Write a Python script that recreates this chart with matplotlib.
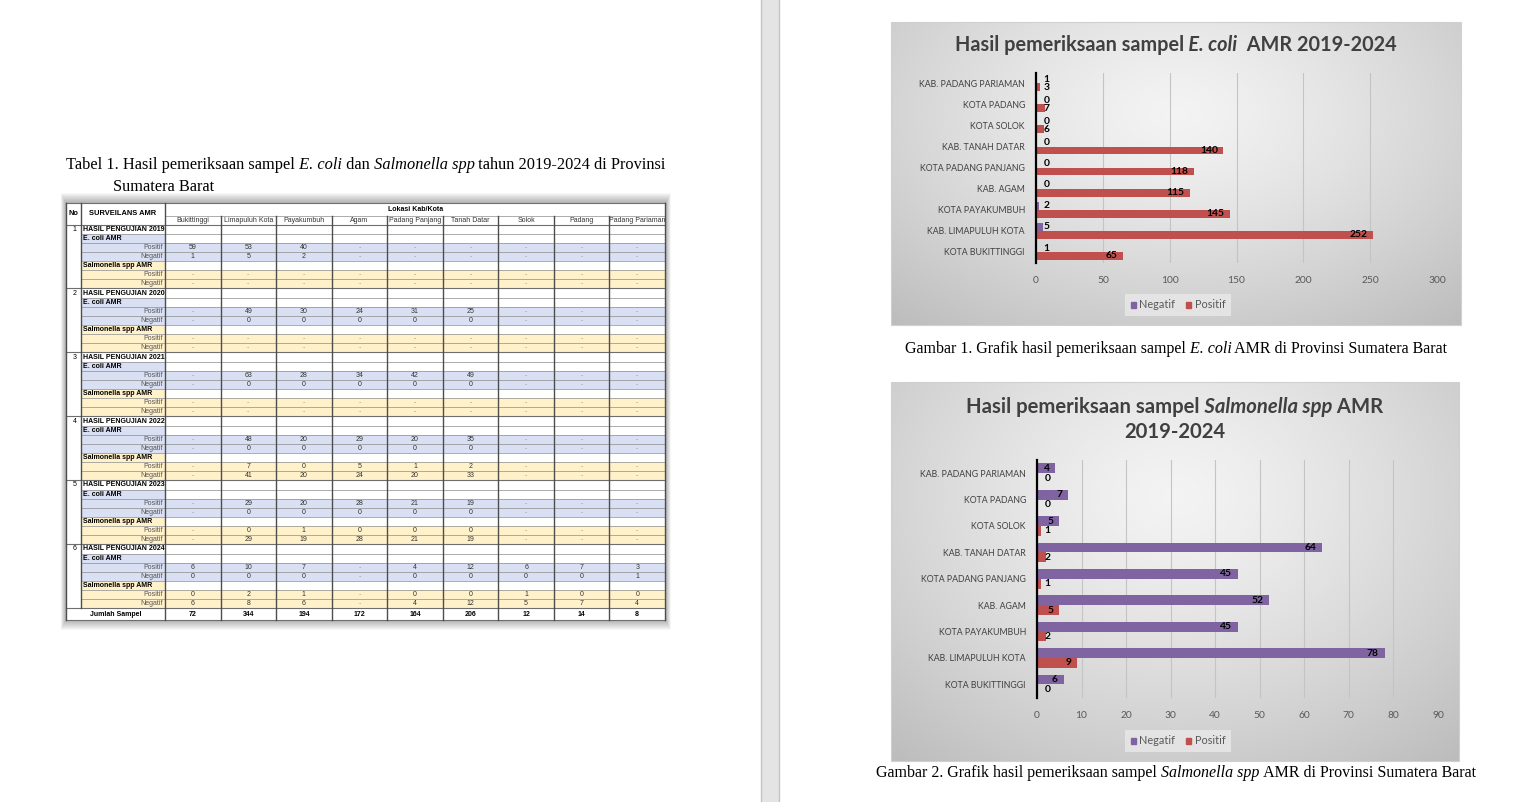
import numpy as np
import matplotlib.pyplot as plt
from matplotlib.patches import Rectangle, Patch

# ---- data: table ----
kota_tabel = ["Bukittinggi", "Limapuluh Kota", "Payakumbuh", "Agam", "Padang Panjang",
              "Tanah Datar", "Solok", "Padang", "Padang Pariaman"]
tahun = [2019, 2020, 2021, 2022, 2023, 2024]
N = None
ecoli_pos_tab = [[59, 53, 40, N, N, N, N, N, N],
                 [N, 49, 30, 24, 31, 25, N, N, N],
                 [N, 63, 28, 34, 42, 49, N, N, N],
                 [N, 48, 20, 29, 20, 35, N, N, N],
                 [N, 29, 20, 28, 21, 19, N, N, N],
                 [6, 10, 7, N, 4, 12, 6, 7, 3]]
ecoli_neg_tab = [[1, 5, 2, N, N, N, N, N, N],
                 [N, 0, 0, 0, 0, 0, N, N, N],
                 [N, 0, 0, 0, 0, 0, N, N, N],
                 [N, 0, 0, 0, 0, 0, N, N, N],
                 [N, 0, 0, 0, 0, 0, N, N, N],
                 [0, 0, 0, N, 0, 0, 0, 0, 1]]
salm_pos_tab = [[N] * 9, [N] * 9, [N] * 9,
                [N, 7, 0, 5, 1, 2, N, N, N],
                [N, 0, 1, 0, 0, 0, N, N, N],
                [0, 2, 1, N, 0, 0, 1, 0, 0]]
salm_neg_tab = [[N] * 9, [N] * 9, [N] * 9,
                [N, 41, 20, 24, 20, 33, N, N, N],
                [N, 29, 19, 28, 21, 19, N, N, N],
                [6, 8, 6, N, 4, 12, 5, 7, 4]]
jumlah = [72, 344, 194, 172, 164, 206, 12, 14, 8]

# ---- data: charts ----
kota_grafik = ["KOTA BUKITTINGGI", "KAB. LIMAPULUH KOTA", "KOTA PAYAKUMBUH", "KAB. AGAM",
               "KOTA PADANG PANJANG", "KAB. TANAH DATAR", "KOTA SOLOK", "KOTA PADANG",
               "KAB. PADANG PARIAMAN"]
ecoli_neg = [1, 5, 2, 0, 0, 0, 0, 0, 1]
ecoli_pos = [65, 252, 145, 115, 118, 140, 6, 7, 3]
salm_neg = [6, 78, 45, 52, 45, 64, 5, 7, 4]
salm_pos = [0, 9, 2, 5, 1, 2, 1, 0, 0]

UNGU = '#8064A2'
MERAH = '#C0504D'
SANS = ['Lato', 'DejaVu Sans']
SERIF = ['Liberation Serif', 'DejaVu Serif']
ARIAL = ['Liberation Sans', 'DejaVu Sans']

W, H = 1520, 802
fig = plt.figure(figsize=(15.2, 8.02), dpi=100)
bg = fig.add_axes([0, 0, 1, 1])
bg.axis('off')

# page separator
bg.add_patch(Rectangle((761, 0), 19, H, fc='#E4E4E4', ec='none'))
bg.plot([761, 761], [0, H], color='#C4C4C4', lw=1)
bg.plot([779, 779], [0, H], color='#C4C4C4', lw=1)


def rich(x, y, parts, size, family, color='black'):
    out = []
    prev = None
    for txt, style, weight in parts:
        if prev is None:
            t = bg.text(x, y, txt, fontsize=size, family=family, style=style,
                        weight=weight, color=color, ha='left', va='center')
        else:
            t = bg.annotate(txt, xy=(1, 0), xycoords=prev, xytext=(0, 0),
                            textcoords='offset points', fontsize=size, family=family,
                            style=style, weight=weight, color=color, ha='left', va='bottom')
        out.append(t)
        prev = t
    return out


centered = []

# ---- table caption ----
rich(66, 165, [("Tabel 1. Hasil pemeriksaan sampel", 'normal', 'normal'),
               (" E. coli", 'italic', 'normal'),
               (" dan", 'normal', 'normal'),
               (" Salmonella spp", 'italic', 'normal'),
               (" tahun 2019-2024 di Provinsi", 'normal', 'normal')], 11.8, SERIF)
rich(113, 187, [("Sumatera Barat", 'normal', 'normal')], 11.8, SERIF)

# ---- table ----
x0, xno, xs = 66, 81, 165
xr = 665
cw = (xr - xs) / 9
ytop, yh1, yh2 = 203, 216, 224.5
rh = 9.14
nrow = 42
yj = yh2 + nrow * rh
ybot = 620
BIRU = '#D9E0F3'
KUNING = '#FFF1C9'
GARIS = '#6E6E6E'

# soft shadow
for i in range(10):
    bg.add_patch(Rectangle((x0 - 1 - i * 0.5, ytop - 1 - i * 1.0), xr - x0 + 2 + i * 1.0,
                           ybot - ytop + 2 + i * 2.0, fc='black', alpha=0.03, ec='none', zorder=1))
bg.add_patch(Rectangle((x0, ytop), xr - x0, ybot - ytop, fc='white', ec='none', zorder=2))

tipe = ['hasil', 'ecoli', 'pos', 'neg', 'salm', 'pos', 'neg']
for k in range(6):
    for j, tp in enumerate(tipe):
        r = 7 * k + j
        y = yh2 + r * rh
        if tp == 'ecoli':
            bg.add_patch(Rectangle((xno, y), xs - xno, rh, fc=BIRU, ec='none', zorder=2))
        elif tp == 'salm':
            bg.add_patch(Rectangle((xno, y), xs - xno, rh, fc=KUNING, ec='none', zorder=2))
        elif tp in ('pos', 'neg'):
            fc = BIRU if j < 4 else KUNING
            bg.add_patch(Rectangle((xno, y), xr - xno, rh, fc=fc, ec='none', zorder=2))

# horizontal lines
for r in range(nrow + 1):
    y = yh2 + r * rh
    if r % 7 == 0:
        bg.plot([x0, xr], [y, y], color=GARIS, lw=0.8, zorder=3)
    else:
        bg.plot([xno, xr], [y, y], color='#8C8C8C', lw=0.5, zorder=3)
bg.plot([xs, xr], [yh1, yh1], color='#8C8C8C', lw=0.5, zorder=3)
bg.plot([x0, xr], [ytop, ytop], color=GARIS, lw=0.8, zorder=3)
bg.plot([x0, xr], [ybot, ybot], color=GARIS, lw=0.8, zorder=3)

# vertical lines
for xv in [x0, xs, xr]:
    bg.plot([xv, xv], [ytop, ybot], color='#4D4D4D', lw=1.0, zorder=3)
bg.plot([xno, xno], [ytop, yj], color='#4D4D4D', lw=1.0, zorder=3)
for c in range(1, 9):
    xv = xs + c * cw
    bg.plot([xv, xv], [yh1, ybot], color='#4D4D4D', lw=1.0, zorder=3)

fs = 5.0
bg.text((x0 + xno) / 2, (ytop + yh2) / 2, "No", fontsize=5.4, weight='bold', family=ARIAL,
        ha='center', va='center', zorder=4)
bg.text((xno + xs) / 2, (ytop + yh2) / 2, "SURVEILANS AMR", fontsize=5.4, weight='bold',
        family=ARIAL, ha='center', va='center', zorder=4)
bg.text(xs + 4 * cw + 1, (ytop + yh1) / 2, "Lokasi Kab/Kota", fontsize=fs, weight='bold',
        family=ARIAL, ha='left', va='center', zorder=4)
for c, nm in enumerate(kota_tabel):
    bg.text(xs + (c + 0.5) * cw, (yh1 + yh2) / 2 + 0.5, nm, fontsize=fs, family=ARIAL,
            color='#333333', ha='center', va='center', zorder=4)


def fmt(v):
    return '-' if v is None else str(v)


for k, th in enumerate(tahun):
    rows = [None, None, ecoli_pos_tab[k], ecoli_neg_tab[k], None, salm_pos_tab[k], salm_neg_tab[k]]
    for j, tp in enumerate(tipe):
        yc = yh2 + (7 * k + j + 0.5) * rh
        if tp == 'hasil':
            bg.text((x0 + xno) / 2 + 1, yc, str(k + 1), fontsize=fs, family=ARIAL,
                    ha='center', va='center', zorder=4)
            bg.text(xno + 2, yc, "HASIL PENGUJIAN %d" % th, fontsize=fs, weight='bold',
                    family=ARIAL, ha='left', va='center', zorder=4)
        elif tp == 'ecoli':
            bg.text(xno + 2, yc, "E. coli AMR", fontsize=fs, weight='bold', family=ARIAL,
                    ha='left', va='center', zorder=4)
        elif tp == 'salm':
            bg.text(xno + 2, yc, "Salmonella spp AMR", fontsize=fs, weight='bold',
                    family=ARIAL, ha='left', va='center', zorder=4)
        else:
            bg.text(xs - 2, yc, "Positif" if tp == 'pos' else "Negatif", fontsize=fs,
                    family=ARIAL, color='#555555', ha='right', va='center', zorder=4)
            for c, v in enumerate(rows[j]):
                bg.text(xs + (c + 0.5) * cw, yc, fmt(v), fontsize=fs, family=ARIAL,
                        color='#333333' if v is not None else '#999999',
                        ha='center', va='center', zorder=4)

yjc = (yj + ybot) / 2
bg.text((x0 + xs) / 2, yjc, "Jumlah Sampel", fontsize=fs, weight='bold', family=ARIAL,
        ha='center', va='center', zorder=4)
for c, v in enumerate(jumlah):
    bg.text(xs + (c + 0.5) * cw, yjc, str(v), fontsize=fs, weight='bold', family=ARIAL,
            ha='center', va='center', zorder=4)


# ---- chart backgrounds ----
def gradient_box(l, t, r, b):
    ny, nx = 80, 160
    yy, xx = np.mgrid[0:1:ny * 1j, 0:1:nx * 1j]
    d = np.sqrt(((xx - 0.5) / 0.75) ** 2 + ((yy - 0.3) / 0.9) ** 2)
    g = np.clip(0.955 - 0.21 * d ** 1.3, 0, 1)
    img = np.dstack([g, g, g])
    bg.imshow(img, extent=(l, r, b, t), aspect='auto', interpolation='bicubic', zorder=1)
    bg.add_patch(Rectangle((l, t), r - l, b - t, fc='none', ec='#D0D0D0', lw=0.8, zorder=2))


gradient_box(891, 22, 1461, 325)
gradient_box(891, 382, 1459, 761)


def chart(box, neg, pos, xmax, step):
    l, t, r, b = box
    ax = fig.add_axes([l / W, 1 - b / H, (r - l) / W, (b - t) / H])
    ax.set_facecolor('none')
    y = np.arange(len(kota_grafik))
    hb = 0.37
    ax.barh(y + 0.185, neg, height=hb, color=UNGU, zorder=3)
    ax.barh(y - 0.185, pos, height=hb, color=MERAH, zorder=3)
    ax.set_xlim(0, xmax)
    ax.set_ylim(-0.5, len(kota_grafik) - 0.5)
    ax.set_xticks(np.arange(0, xmax + 1, step))
    ax.set_yticks(y)
    ax.set_yticklabels(kota_grafik)
    ax.grid(axis='x', color='#C4C4C4', lw=0.8)
    ax.set_axisbelow(True)
    for s in ['top', 'right', 'bottom']:
        ax.spines[s].set_visible(False)
    ax.spines['left'].set_color('black')
    ax.spines['left'].set_linewidth(1.6)
    ax.spines['left'].set_zorder(4)
    ax.tick_params(axis='both', length=0)
    ax.tick_params(axis='x', pad=9.5, labelsize=7.4, labelcolor='#595959')
    ax.tick_params(axis='y', pad=8, labelsize=6.3, labelcolor='#404040')
    for lab in ax.get_xticklabels() + ax.get_yticklabels():
        lab.set_family(SANS)
    ppu = (r - l) / xmax
    for vals, off in [(neg, 0.185), (pos, -0.185)]:
        for i, v in enumerate(vals):
            w = 5.6 * len(str(v))
            xc = max(v * ppu - 6 - w / 2, 7.5 + w / 2) / ppu
            ax.text(xc, i + off, str(v), fontsize=7.4, weight='bold', family=SANS,
                    ha='center', va='center', zorder=5)
    return ax


chart((1036, 72.8, 1437, 262.5), ecoli_neg, ecoli_pos, 300, 50)
chart((1037, 460, 1438, 697.5), salm_neg, salm_pos, 90, 10)

for ly in [305, 741]:
    handles = [Patch(color=UNGU, label='Negatif'), Patch(color=MERAH, label='Positif')]
    leg = fig.legend(handles=handles, loc='center', bbox_to_anchor=(1178 / W, 1 - ly / H),
                     ncol=2, fontsize=7.8, frameon=True, handlelength=0.5, handleheight=0.5,
                     handletextpad=0.3, columnspacing=1.0, borderpad=0.55, fancybox=False)
    leg.get_frame().set_facecolor('#E9E9E9')
    leg.get_frame().set_edgecolor('none')
    for tx in leg.get_texts():
        tx.set_color('#595959')
        tx.set_family(SANS)

# ---- titles ----
TCOL = '#404040'
centered.append((1176, rich(0, 45, [("Hasil pemeriksaan sampel", 'normal', 'bold'),
                                    (" E. coli", 'italic', 'bold'),
                                    ("  AMR 2019-2024", 'normal', 'bold')], 14.3, SANS, TCOL)))
centered.append((1175, rich(0, 407, [("Hasil pemeriksaan sampel", 'normal', 'bold'),
                                     (" Salmonella spp", 'italic', 'bold'),
                                     (" AMR", 'normal', 'bold')], 14.6, SANS, TCOL)))
centered.append((1175, rich(0, 432, [("2019-2024", 'normal', 'bold')], 14.6, SANS, TCOL)))

# ---- figure captions ----
centered.append((1176, rich(0, 349, [("Gambar 1. Grafik hasil pemeriksaan sampel", 'normal', 'normal'),
                                     (" E. coli", 'italic', 'normal'),
                                     (" AMR di Provinsi Sumatera Barat", 'normal', 'normal')],
                            11.5, SERIF)))
centered.append((1176, rich(0, 773, [("Gambar 2. Grafik hasil pemeriksaan sampel", 'normal', 'normal'),
                                     (" Salmonella spp", 'italic', 'normal'),
                                     (" AMR di Provinsi Sumatera Barat", 'normal', 'normal')],
                            11.5, SERIF)))

bg.set_xlim(0, W)
bg.set_ylim(H, 0)

fig.canvas.draw()
for cx, parts in centered:
    a = parts[0].get_window_extent().x0
    bnd = parts[-1].get_window_extent().x1
    parts[0].set_x(cx - (bnd - a) / 2)

fig.savefig('out.png', dpi=100)
